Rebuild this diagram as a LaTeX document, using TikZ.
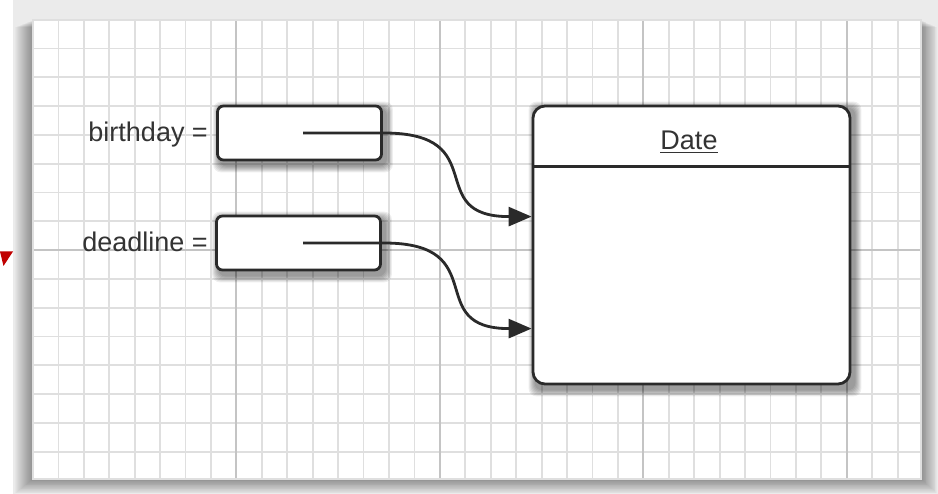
\documentclass[tikz,border=0pt]{standalone}
\usepackage{fontspec}
\setmainfont{Liberation Sans}
\usetikzlibrary{arrows.meta,calc}
\pgfdeclarelayer{bg}
\pgfdeclarelayer{shadowlayer}
\pgfsetlayers{bg,shadowlayer,main}
\definecolor{ink}{HTML}{2A2A2A}
\definecolor{txt}{HTML}{333333}
\definecolor{gridminor}{HTML}{DFDFDF}
\definecolor{gridmajor}{HTML}{C4C4C4}
\definecolor{framegrey}{HTML}{EBEBEB}
\definecolor{marker}{HTML}{C00000}
\tikzset{
  varbox/.style={draw=ink, line width=2.8pt, fill=white, rounded corners=6pt,
    minimum width=164pt, minimum height=54pt, inner sep=0pt},
  classbox/.style={draw=ink, line width=2.8pt, fill=white, rounded corners=12pt,
    minimum width=317pt, minimum height=278pt, inner sep=0pt},
  vartext/.style={text=txt, font=\fontsize{27}{30}\selectfont, inner sep=0pt},
  pointer/.style={draw=ink, line width=2.8pt, -{Triangle[length=23pt,width=19pt]}},
  minorline/.style={draw=gridminor, line width=1.8pt},
  majorline/.style={draw=gridmajor, line width=2pt},
}
\newcommand\mysoftshadow[1]{%
  \foreach \k in {0,...,6}{%
    \fill[black,fill opacity=0.065,rounded corners=8pt]
      ($(#1.north west)+({3-\k},{3-\k})$) rectangle ($(#1.south east)+({4+\k},{5+\k})$);}}
\begin{document}
\begin{tikzpicture}[x=1pt,y=-1pt]
\useasboundingbox (0,0) rectangle (938,494);
\begin{pgfonlayer}{bg}
  \fill[white] (0,0) rectangle (938,494);
  \fill[framegrey] (13,0) rectangle (938,494);
  \foreach \i in {1,...,18}{%
    \fill[black,fill opacity=0.025] ({33-\i},{20+\i*0.4}) rectangle ({921+\i*0.9},{479+\i*0.8});}
  \fill[white] (33,20) rectangle (921,479);
  \foreach \k in {1,...,34}{\draw[minorline] ({33+\k*25.43},20) -- ({33+\k*25.43},479);}
  \foreach \j in {1,...,15}{\draw[minorline] (33,{48.5+(\j-1)*28.8}) -- (921,{48.5+(\j-1)*28.8});}
  \foreach \k in {8,16,24,32}{\draw[majorline] ({33+\k*25.43},20) -- ({33+\k*25.43},479);}
  \draw[majorline] (33,250.1) -- (921,250.1);
  \draw[minorline] (33,20) rectangle (921,479);
\end{pgfonlayer}

\fill[marker] (0,251.5) -- (13,251.5) -- (3.5,266) -- cycle;

\node[varbox] (bbox) at (299.5,133) {};
\node[varbox] (dbox) at (298.5,243) {};
\node[classbox] (date) at (691.5,245) {};

\node[vartext, anchor=base east] (blabel) at (208,142) {birthday =};
\node[vartext, anchor=base east] (dlabel) at (208,252) {deadline =};

\coordinate (divl) at ($(date.north west)+(0,62)$);
\coordinate (divr) at ($(date.north east)+(0,62)$);
\draw[ink, line width=2.8pt] (divl) -- (divr);
\node[vartext, anchor=base] (datelabel) at (689,150) {Date};
\draw[txt, line width=1.5pt] ($(datelabel.base west)+(0,2.5)$) -- ($(datelabel.base east)+(0,2.5)$);

\begin{pgfonlayer}{shadowlayer}
  \mysoftshadow{bbox}
  \mysoftshadow{dbox}
  \mysoftshadow{date}
\end{pgfonlayer}

\coordinate (bstart) at (303,133);
\coordinate (bturn) at (384,133);
\coordinate (bend) at ($(date.north west)+(0,112)$);
\coordinate (dstart) at (303,243);
\coordinate (dturn) at (384,243);
\coordinate (dend) at ($(date.north west)+(0,224)$);
\draw[pointer] (bstart) -- (bturn) .. controls +(110,0) and +(-110,0) .. (bend);
\draw[pointer] (dstart) -- (dturn) .. controls +(110,0) and +(-110,0) .. (dend);
\end{tikzpicture}
\end{document}
